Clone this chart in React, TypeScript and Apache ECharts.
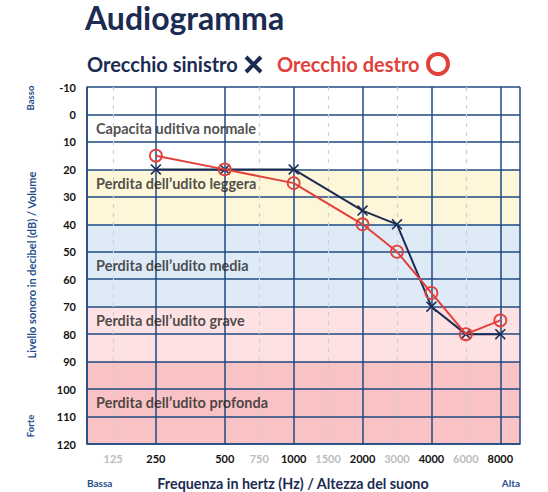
import { useEffect, useRef } from 'react';
import * as echarts from 'echarts';

// frequenze (Hz) mostrate sull'asse, quelle d'ottava in nero
const freqTicks = [125, 250, 500, 750, 1000, 1500, 2000, 3000, 4000, 6000, 8000];
const octaveFreqs = [250, 500, 1000, 2000, 4000, 8000];

// misure per orecchio (dB HL)
const testFreqs = [250, 500, 1000, 2000, 3000, 4000, 6000, 8000];
const leftEar = [20, 20, 20, 35, 40, 70, 80, 80];
const rightEar = [15, 20, 25, 40, 50, 65, 80, 75];

// fasce di perdita uditiva
const bandNames = [
    'Capacita uditiva normale',
    'Perdita dell’udito leggera',
    'Perdita dell’udito media',
    'Perdita dell’udito grave',
    'Perdita dell’udito profonda',
];
const bandEdges = [-10, 20, 40, 70, 90, 120];
const bandLabelDb = [5, 25, 55, 75, 105];

const FONT = 'Lato';
const NAVY = '#1b2b52';
const BLUE = '#1f4e8c';
const GRID = '#1f4a82';
const RED = '#e2403a';
const bandColors = ['#ffffff', '#fdf6d9', '#deebf7', '#fde1e3', '#f9c2c4'];

// posizione sull'asse in ottave: 250 Hz = 1, le frequenze intermedie a metà ottava
const octavePos = (f: number) => {
    if (f < 250) return 0.38; // 125 Hz nel riferimento sta poco dentro il bordo
    const k = Math.floor(Math.log2(f / 250) + 1e-9);
    return 1 + k + (f > 250 * 2 ** k ? 0.5 : 0);
};

const X_MAX = 6.286;

const App = () => {
    const chartRef = useRef<HTMLDivElement | null>(null);

    useEffect(() => {
        if (!chartRef.current) return;
        const chart = echarts.init(chartRef.current, null, { renderer: 'svg' });

        const option = {
            animation: false,
            textStyle: { fontFamily: FONT },
            grid: { left: 87, right: 28, top: 87, bottom: 48 },
            xAxis: {
                type: 'value',
                min: 0,
                max: X_MAX,
                interval: 1,
                z: 1,
                axisLine: { show: true, onZero: false, lineStyle: { color: GRID, width: 1.5 } },
                axisTick: { show: false },
                splitLine: { show: true, lineStyle: { color: GRID, width: 1.5 } },
                axisLabel: {
                    customValues: freqTicks.map(octavePos),
                    margin: 9,
                    formatter: (v: number) => {
                        const f = freqTicks.find((t) => Math.abs(octavePos(t) - v) < 1e-6);
                        if (f == null) return '';
                        return octaveFreqs.includes(f) ? `{b|${f}}` : `{g|${f}}`;
                    },
                    rich: {
                        b: { color: '#111111', fontWeight: 'bold', fontSize: 11, fontFamily: FONT },
                        g: { color: '#bcbcbc', fontWeight: 'bold', fontSize: 11, fontFamily: FONT },
                    },
                },
            },
            yAxis: {
                type: 'value',
                inverse: true,
                min: -10,
                max: 120,
                interval: 10,
                z: 1,
                axisLine: { show: true, onZero: false, lineStyle: { color: GRID, width: 1.5 } },
                axisTick: { show: false },
                splitLine: { show: true, lineStyle: { color: GRID, width: 1.5 } },
                axisLabel: { color: '#111111', fontWeight: 'bold', fontSize: 11, margin: 11, fontFamily: FONT },
            },
            series: [
                {
                    name: 'fasce',
                    type: 'line',
                    data: [],
                    silent: true,
                    markArea: {
                        silent: true,
                        z: 0,
                        data: bandNames.map((_, i) => [
                            { yAxis: bandEdges[i], itemStyle: { color: bandColors[i] } },
                            { yAxis: bandEdges[i + 1] },
                        ]),
                    },
                    markLine: {
                        silent: true,
                        z: 1,
                        symbol: ['none', 'none'],
                        label: { show: false },
                        data: freqTicks
                            .filter((f) => !octaveFreqs.includes(f))
                            .map((f) => ({
                                xAxis: octavePos(f),
                                lineStyle: { color: '#cfcfcf', width: 1.2, type: [4, 5] },
                            })),
                    },
                },
                {
                    name: 'etichette',
                    type: 'scatter',
                    silent: true,
                    z: 3,
                    symbolSize: 0,
                    data: bandLabelDb.map((db, i) => ({ value: [0, db], name: bandNames[i] })),
                    label: {
                        show: true,
                        position: 'right',
                        distance: 9,
                        formatter: '{b}',
                        color: '#222222',
                        fontWeight: 'bold',
                        fontSize: 14.5,
                        fontFamily: FONT,
                    },
                },
                {
                    name: 'Orecchio sinistro',
                    type: 'line',
                    z: 4,
                    data: testFreqs.map((f, i) => [octavePos(f), leftEar[i]]),
                    symbol: 'path://M0,1.2 L1.2,0 L6,4.8 L10.8,0 L12,1.2 L7.2,6 L12,10.8 L10.8,12 L6,7.2 L1.2,12 L0,10.8 L4.8,6 Z',
                    symbolSize: 11,
                    lineStyle: { color: NAVY, width: 2 },
                    itemStyle: { color: NAVY },
                },
                {
                    name: 'Orecchio destro',
                    type: 'line',
                    z: 5,
                    data: testFreqs.map((f, i) => [octavePos(f), rightEar[i]]),
                    symbol: 'circle',
                    symbolSize: 12,
                    lineStyle: { color: RED, width: 2 },
                    itemStyle: { color: 'transparent', borderColor: RED, borderWidth: 1.8 },
                },
            ],
            graphic: [
                {
                    type: 'text',
                    x: 85,
                    y: 1,
                    style: {
                        text: 'Audiogramma',
                        font: `bold 32px ${FONT}`,
                        fill: NAVY,
                        align: 'left',
                        verticalAlign: 'top',
                    },
                },
                {
                    type: 'text',
                    x: 87,
                    y: 64,
                    style: { text: 'Orecchio sinistro', font: `bold 20px ${FONT}`, fill: NAVY, verticalAlign: 'middle' },
                },
                {
                    type: 'group',
                    x: 253.5,
                    y: 64.5,
                    children: [
                        { type: 'line', shape: { x1: -7.5, y1: -7.5, x2: 7.5, y2: 7.5 }, style: { stroke: NAVY, lineWidth: 4 } },
                        { type: 'line', shape: { x1: 7.5, y1: -7.5, x2: -7.5, y2: 7.5 }, style: { stroke: NAVY, lineWidth: 4 } },
                    ],
                },
                {
                    type: 'text',
                    x: 277,
                    y: 64,
                    style: { text: 'Orecchio destro', font: `bold 20px ${FONT}`, fill: RED, verticalAlign: 'middle' },
                },
                {
                    type: 'circle',
                    shape: { cx: 438, cy: 64, r: 10 },
                    style: { fill: 'none', stroke: RED, lineWidth: 4 },
                },
                {
                    type: 'text',
                    x: 31,
                    y: 265,
                    rotation: Math.PI / 2,
                    style: {
                        text: 'Livello sonoro in decibel (dB) / Volume',
                        font: `bold 11px ${FONT}`,
                        fill: BLUE,
                        align: 'center',
                        verticalAlign: 'middle',
                    },
                },
                {
                    type: 'text',
                    x: 30,
                    y: 98,
                    rotation: Math.PI / 2,
                    style: { text: 'Basso', font: `bold 9.5px ${FONT}`, fill: BLUE, align: 'center', verticalAlign: 'middle' },
                },
                {
                    type: 'text',
                    x: 30,
                    y: 426,
                    rotation: Math.PI / 2,
                    style: { text: 'Forte', font: `bold 9.5px ${FONT}`, fill: BLUE, align: 'center', verticalAlign: 'middle' },
                },
                {
                    type: 'text',
                    x: 293,
                    y: 483,
                    style: {
                        text: 'Frequenza in hertz (Hz) / Altezza del suono',
                        font: `bold 14.3px ${FONT}`,
                        fill: NAVY,
                        align: 'center',
                        verticalAlign: 'middle',
                    },
                },
                {
                    type: 'text',
                    x: 87,
                    y: 483,
                    style: { text: 'Bassa', font: `bold 10px ${FONT}`, fill: BLUE, align: 'left', verticalAlign: 'middle' },
                },
                {
                    type: 'text',
                    x: 520,
                    y: 483,
                    style: { text: 'Alta', font: `bold 10px ${FONT}`, fill: BLUE, align: 'right', verticalAlign: 'middle' },
                },
            ],
        };

        chart.setOption(option);

        return () => {
            chart.dispose();
        };
    }, []);

    return (
        <div
            ref={chartRef}
            style={{ position: 'absolute', left: 0, top: 0, width: 548, height: 492 }}
        />
    );
};

export default App;
